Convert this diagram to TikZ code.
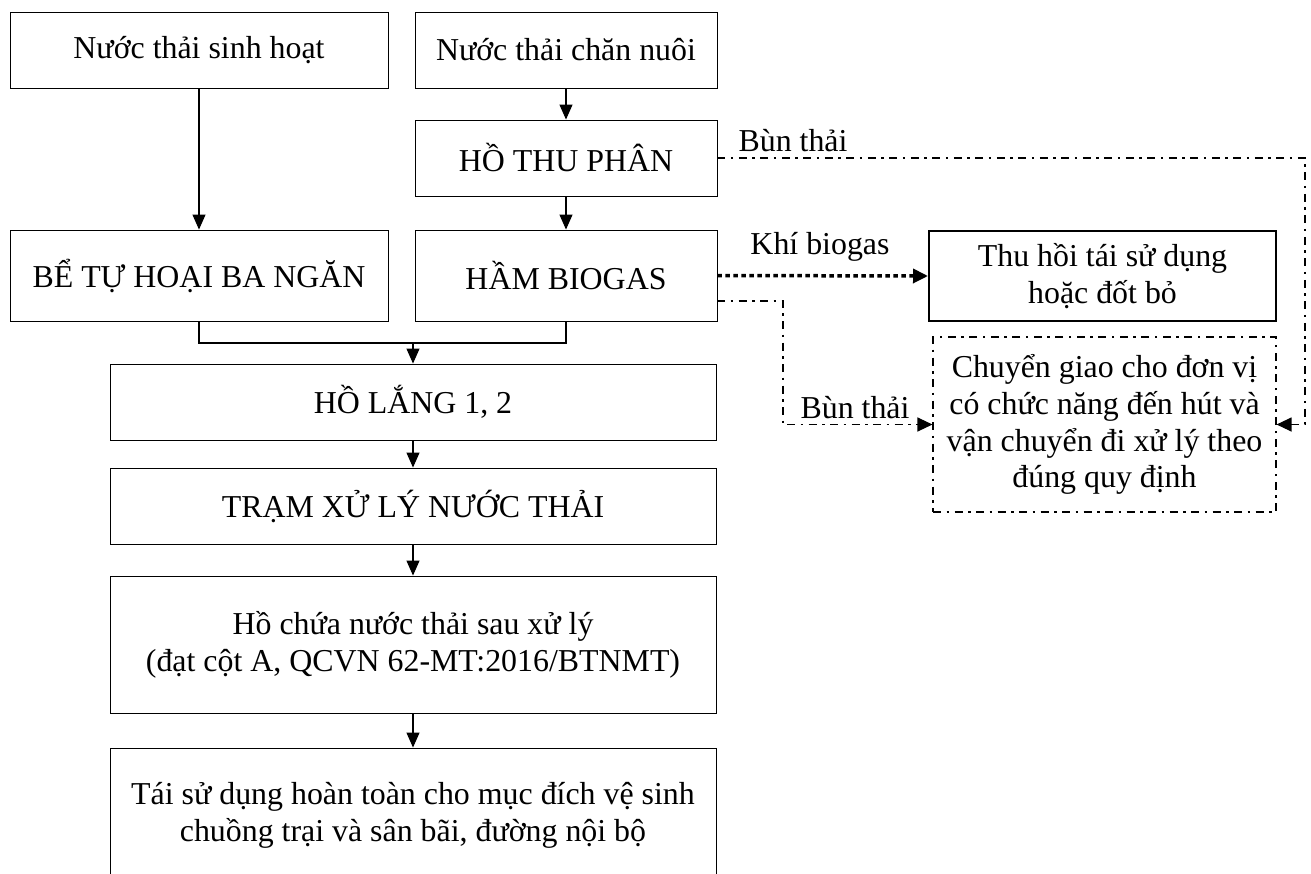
\documentclass[tikz,border=0pt]{standalone}
\usepackage{fontspec}
\setmainfont{Liberation Serif}
\usetikzlibrary{arrows.meta}
\begin{document}
\begin{tikzpicture}[x=1bp,y=-1bp,
  box/.style={draw=black, line width=0.9bp, align=center, inner sep=0pt,
    font=\fontsize{32}{37}\selectfont},
  thickbox/.style={box, line width=2bp},
  dashbox/.style={box, line width=1.1bp, dash pattern=on 8bp off 5.5bp on 2.5bp off 5.5bp},
  flow/.style={draw=black, line width=1.2bp, -{Triangle[length=15bp,width=13bp]}},
  plain/.style={draw=black, line width=1.2bp},
  dashdot/.style={draw=black, line width=1.2bp, dash pattern=on 8bp off 5.5bp on 2.5bp off 5.5bp},
  dotline/.style={draw=black, line width=3.5bp, dash pattern=on 4.5bp off 3.5bp},
  tip/.style={-{Triangle[length=15bp,width=14bp]}},
  lbl/.style={inner sep=0pt, font=\fontsize{32}{37}\selectfont}
]
\useasboundingbox (0,0) rectangle (1311,873);
\fill[white] (0,0) rectangle (1311,873);
\clip (0,0) rectangle (1311,873);

% left/middle column
\node[box, minimum width=378bp, minimum height=76bp] (A) at (199,50) {Nước thải sinh hoạt};
\node[box, minimum width=302bp, minimum height=76bp] (B) at (566,50) {Nước thải chăn nuôi};
\node[box, minimum width=302bp, minimum height=76bp] (HTP) at (566,158) {HỒ THU PHÂN};
\node[box, minimum width=302bp, minimum height=91bp] (HB) at (566,275.5) {HẦM BIOGAS};
\node[box, minimum width=378bp, minimum height=91bp] (BTH) at (199,275.5) {BỂ TỰ HOẠI BA NGĂN};
\node[box, minimum width=606bp, minimum height=76bp] (HL) at (413,402) {HỒ LẮNG 1, 2};
\node[box, minimum width=606bp, minimum height=76bp] (TR) at (413,506) {TRẠM XỬ LÝ NƯỚC THẢI};
\node[box, minimum width=606bp, minimum height=137bp] (HC) at (413,644.5) {Hồ chứa nước thải sau xử lý\\(đạt cột A, QCVN 62-MT:2016/BTNMT)};
\node[box, minimum width=606bp, minimum height=134bp] (TS) at (413,815) {Tái sử dụng hoàn toàn cho mục đích vệ sinh\\chuồng trại và sân bãi, đường nội bộ};

% right column
\node[thickbox, minimum width=347bp, minimum height=90bp] (TH) at (1102.5,276) {Thu hồi tái sử dụng\\hoặc đốt bỏ};
\node[dashbox, minimum width=343bp, minimum height=175bp] (CG) at (1104.5,424.5) {Chuyển giao cho đơn vị\\có chức năng đến hút và\\vận chuyển đi xử lý theo\\đúng quy định};

% main flow
\draw[flow] (A.south) -- (BTH.north);
\draw[flow] (B.south) -- (HTP.north);
\draw[flow] (HTP.south) -- (HB.north);
\coordinate (merge) at (413,343);
\draw[plain] (BTH.south) |- (merge) -| (HB.south);
\draw[flow] (merge) -- (HL.north);
\draw[flow] (HL.south) -- (TR.north);
\draw[flow] (TR.south) -- (HC.north);
\draw[flow] (HC.south) -- (TS.north);

% side flows
\coordinate (rtop) at (1305,158);
\draw[dashdot, tip] (HTP.east) -- (rtop) |- (CG.east);
\node[lbl] (l1) at (793,141) {Bùn thải};

\draw[dotline, tip] (HB.east) -- (TH.west);
\node[lbl] (l2) at (820,247) {Khí biogas};

\coordinate (hbout) at (717,301);
\coordinate (hbturn) at (783,301);
\draw[dashdot, tip] (hbout) -- (hbturn) |- (CG.west);
\node[lbl] (l3) at (855,408) {Bùn thải};
\end{tikzpicture}
\end{document}
